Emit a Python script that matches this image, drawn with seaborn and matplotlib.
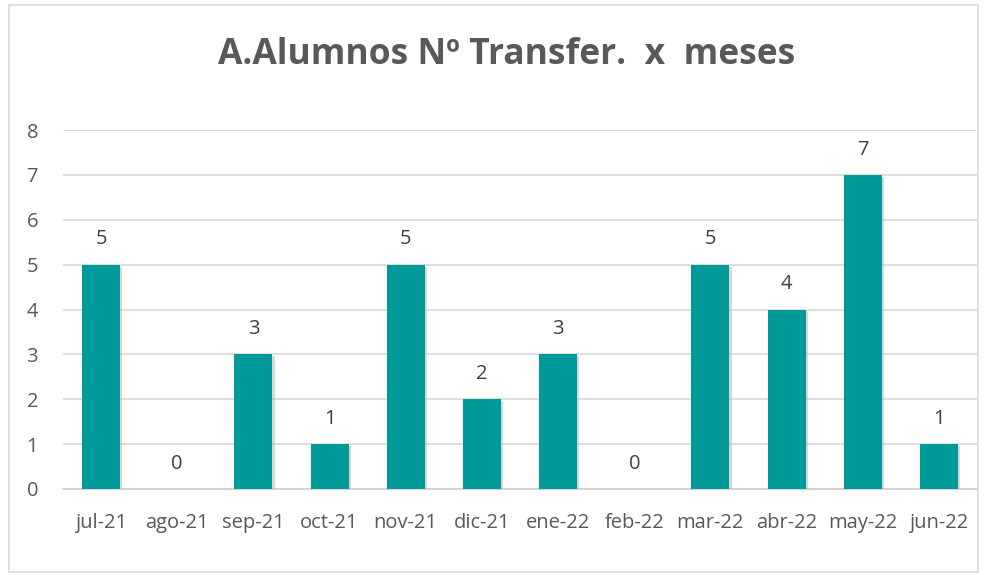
import matplotlib
matplotlib.use("Agg")
import matplotlib.pyplot as plt
import matplotlib.patheffects as pe
import seaborn as sns
import pandas as pd
from matplotlib.patches import Rectangle

meses = ["jul-21", "ago-21", "sep-21", "oct-21", "nov-21", "dic-21",
         "ene-22", "feb-22", "mar-22", "abr-22", "may-22", "jun-22"]
transfer = [5, 0, 3, 1, 5, 2, 3, 0, 5, 4, 7, 1]

df = pd.DataFrame({"mes": meses, "n": transfer})

sns.set_style("white")
plt.rcParams["font.family"] = ["Open Sans", "DejaVu Sans"]

fig = plt.figure(figsize=(9.92, 5.75), dpi=100)
ax = fig.add_axes([63 / 992, 86 / 575, 914 / 992, 359 / 575])

sns.barplot(data=df, x="mes", y="n", color="#009999", width=0.5,
            saturation=1, linewidth=0, ax=ax, zorder=3)
# light shadow on the bars, like the original
for bar in ax.patches:
    bar.set_path_effects([pe.SimplePatchShadow(offset=(1.5, -1.5), shadow_rgbFace="#b0b0b0", alpha=0.5),
                          pe.Normal()])

ax.set_ylim(0, 8)
ax.set_yticks(range(0, 9))
ax.yaxis.grid(True, color="#d9d9d9", linewidth=1.2, zorder=0)
ax.set_xlabel("")
ax.set_ylabel("")
for s in ["top", "right", "left"]:
    ax.spines[s].set_visible(False)
ax.spines["bottom"].set_color("#d0d0d0")
ax.spines["bottom"].set_linewidth(1.2)
ax.tick_params(axis="both", length=0, labelsize=14.5, labelcolor="#595959")
ax.tick_params(axis="x", pad=17)
ax.tick_params(axis="y", pad=18)

for i, v in enumerate(transfer):
    ax.annotate(str(v), (i, v), xytext=(0, 11), textcoords="offset points",
                ha="center", va="bottom", fontsize=14.5, color="#404040")

fig.text(507 / 992, 1 - 55 / 575, "A.Alumnos Nº Transfer.  x  meses",
         ha="center", va="center", fontsize=25.5, fontweight="bold",
         color="#595959")

fig.patches.append(Rectangle((9 / 992, 1 - 572 / 575), 969 / 992, 567 / 575,
                             transform=fig.transFigure, fill=False,
                             edgecolor="#d9d9d9", linewidth=1.2))

fig.savefig("out.png", dpi=100, facecolor="white")
